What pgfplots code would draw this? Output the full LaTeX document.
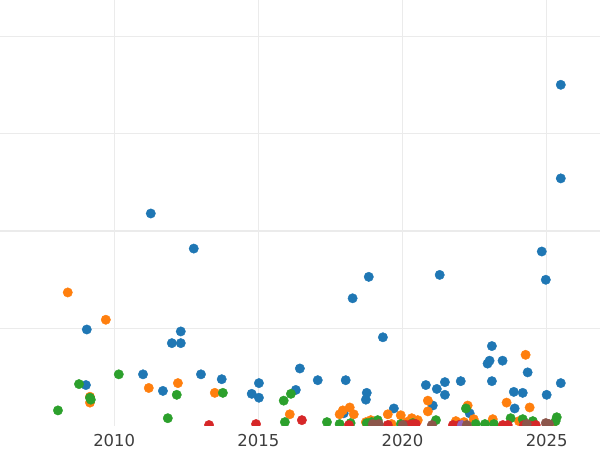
\documentclass[border=0pt]{standalone}
\usepackage{pgfplots}
\pgfplotsset{compat=1.18}
\usepackage{fontspec}
\setmainfont{DejaVu Sans}
\definecolor{cBlue}{HTML}{1F77B4}
\definecolor{cOrange}{HTML}{FF7F0E}
\definecolor{cGreen}{HTML}{2CA02C}
\definecolor{cRed}{HTML}{D62728}
\definecolor{cPurple}{HTML}{9467BD}
\definecolor{cBrown}{HTML}{8C564B}
\definecolor{gridc}{HTML}{EBEBEB}
\definecolor{labc}{HTML}{3D3D3D}
\begin{document}
\begin{tikzpicture}
\useasboundingbox (0,0) rectangle (600bp,450bp);
\begin{axis}[
  at={(0,24bp)}, anchor=south west,
  scale only axis, width=600bp, height=426bp,
  xmin=2006.04, xmax=2026.85, ymin=0, ymax=4.37,
  axis line style={draw=none},
  xtick={2010,2015,2020,2025},
  ytick={1,2,3,4}, yticklabels={},
  major tick length=0pt,
  grid=major, major grid style={draw=gridc, line width=1.1bp},
  /pgf/number format/1000 sep={},
  /pgf/number format/assume math mode=true,
  xticklabel style={font=\fontsize{16.5}{18}\selectfont, text=labc, inner sep=0pt, yshift=-8bp},
  clip mode=individual, clip marker paths=true,
  every axis plot/.append style={only marks, mark=*, mark size=4.7bp, mark options={draw=white, line width=0.4bp}},
]
% blue
\addplot[cBlue, mark options={fill=cBlue}] coordinates {
(2011.27,2.18)(2012.76,1.82)(2025.49,3.50)(2025.49,2.54)(2024.83,1.79)(2024.97,1.50)
(2018.83,1.53)(2021.29,1.55)(2018.27,1.31)(2019.32,0.91)(2009.05,0.99)(2012.31,0.97)
(2012.00,0.85)(2012.31,0.85)(2009.02,0.42)(2011.00,0.53)(2011.69,0.36)(2013.01,0.53)
(2013.73,0.48)(2014.77,0.33)(2015.02,0.44)(2015.02,0.29)(2016.30,0.37)(2016.44,0.59)
(2017.06,0.47)(2018.03,0.47)(2018.76,0.34)(2018.73,0.27)(2019.70,0.18)(2020.81,0.42)
(2021.19,0.38)(2021.47,0.45)(2021.47,0.32)(2022.02,0.46)(2021.05,0.21)(2022.33,0.13)
(2023.10,0.82)(2022.95,0.64)(2023.02,0.67)(2023.47,0.67)(2023.10,0.46)(2024.34,0.55)
(2023.86,0.35)(2024.17,0.34)(2023.89,0.18)(2025.00,0.32)(2025.49,0.44)(2017.96,0.13)
};
% orange
\addplot[cOrange, mark options={fill=cOrange}] coordinates {
(2008.39,1.37)(2009.71,1.09)(2011.20,0.39)(2009.16,0.30)(2009.16,0.24)(2012.21,0.44)
(2013.49,0.34)(2016.09,0.12)(2024.27,0.73)(2023.61,0.24)(2024.41,0.19)(2017.93,0.16)
(2018.17,0.19)(2018.31,0.12)(2017.82,0.12)(2018.73,0.04)(2018.90,0.06)(2019.49,0.12)
(2019.94,0.11)(2020.53,0.06)(2020.88,0.26)(2020.88,0.15)(2022.26,0.21)(2022.47,0.07)
(2021.85,0.05)(2022.13,0.04)(2023.13,0.07)(2025.21,0.02)(2024.04,0.05)(2019.62,0.02)
(2020.15,0.04)(2020.32,0.08)
};
% green
\addplot[cGreen, mark options={fill=cGreen}] coordinates {
(2008.05,0.16)(2008.78,0.43)(2009.16,0.29)(2009.19,0.27)(2010.16,0.53)(2011.86,0.08)
(2012.17,0.32)(2013.77,0.34)(2015.88,0.26)(2016.13,0.33)(2015.92,0.04)(2017.38,0.04)
(2017.82,0.02)(2018.20,0.03)(2019.14,0.06)(2018.93,0.04)(2018.76,0.03)(2019.94,0.02)
(2020.36,0.03)(2021.16,0.06)(2022.20,0.18)(2022.86,0.02)(2023.17,0.02)(2022.54,0.02)
(2023.75,0.08)(2024.17,0.07)(2024.52,0.05)(2025.35,0.09)(2025.31,0.05)
};
% red
\addplot[cRed, mark options={fill=cRed}] coordinates {
(2013.29,0.01)(2014.92,0.02)(2016.51,0.06)(2018.14,0.01)(2019.49,0.01)(2020.11,0.01)
(2020.36,0.02)(2020.22,0.01)(2020.46,0.02)(2021.75,0.01)(2021.96,0.01)(2023.48,0.01)
(2023.65,0.01)(2024.62,0.01)(2024.21,0.01)(2024.38,0.01)
};
% purple
\addplot[cPurple, mark options={fill=cPurple}] coordinates {
(2022.06,0.01)
};
% brown
\addplot[cBrown, mark options={fill=cBrown}] coordinates {
(2018.97,0.02)(2019.18,0.02)(2020.01,0.01)(2021.02,0.01)(2022.23,0.01)(2024.31,0.02)
(2024.97,0.03)(2025.08,0.02)
};
\end{axis}
\end{tikzpicture}
\end{document}
